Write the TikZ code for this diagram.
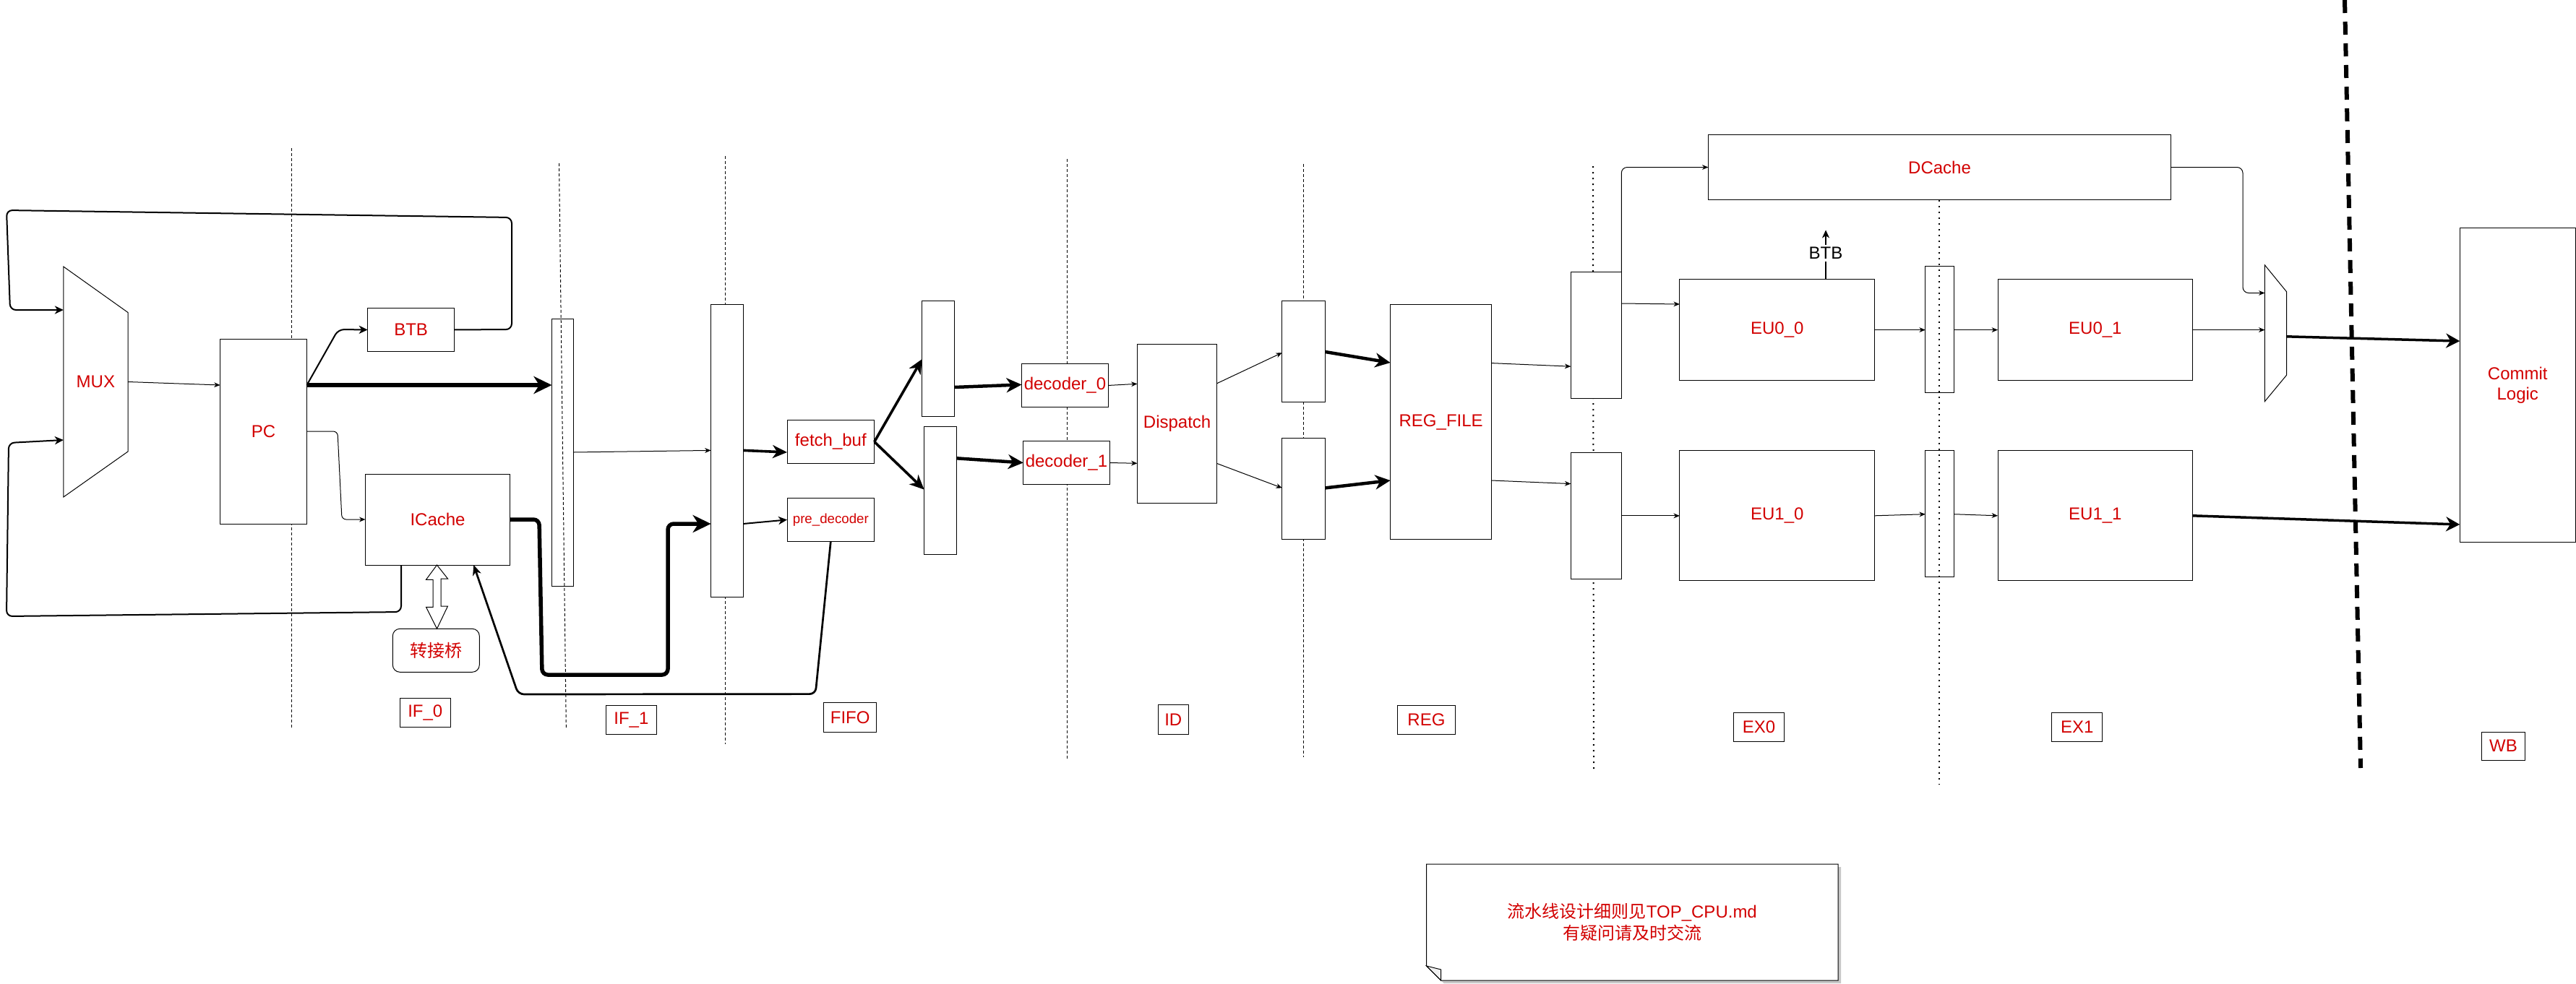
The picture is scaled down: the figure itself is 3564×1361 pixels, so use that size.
\documentclass[tikz,border=0pt]{standalone}
\usepackage{fontspec}
\setmainfont{Liberation Sans}
\newfontfamily\cjk{Noto Sans CJK SC}
\usetikzlibrary{arrows.meta,calc}
\definecolor{lblred}{RGB}{210,0,0}
\newcommand\myfs{\fontsize{12}{14}\selectfont}
\newcommand\mkbox[7][]{\node[box,#1,minimum width={(#5-#3)*0.5pt},minimum height={(#6-#4)*0.5pt}] (#2) at ({(#3+#5)/2},{(#4+#6)/2}) {#7};}
\begin{document}
\begin{tikzpicture}[x=0.5pt,y=-0.5pt,
  box/.style={draw, line width=0.5pt, fill=white, inner sep=0pt, outer sep=0pt, text=lblred, font=\myfs, align=center},
  thinarr/.style={line width=0.5pt, -{Stealth[length=4.2pt,width=3.4pt,inset=1.3pt]}},
  medarr/.style={line width=1pt, rounded corners=4pt, -{Stealth[length=6pt,width=5.6pt,inset=1.8pt]}},
  medarrb/.style={line width=1.35pt, rounded corners=4pt, -{Stealth[length=7pt,width=6pt,inset=2pt]}},
  arrC/.style={line width=1.8pt, -{Stealth[length=10pt,width=9pt,inset=3pt]}},
  arrD/.style={line width=2.25pt, -{Stealth[length=10.5pt,width=10pt,inset=3.2pt]}},
  arrE/.style={line width=1.75pt, -{Stealth[length=9.5pt,width=10pt,inset=3pt]}},
  thickarr/.style={line width=3pt, rounded corners=4pt, -{Stealth[length=12.5pt,width=12pt,inset=3.8pt]}},
  dashln/.style={line width=0.5pt, dash pattern=on 2pt off 1.5pt},
  dotln/.style={line width=1pt, dash pattern=on 1pt off 3pt},
  bigdash/.style={line width=3pt, dash pattern=on 9pt off 6pt}
]
\useasboundingbox (0,0) rectangle (3564,1361);
\fill[white] (0,0) rectangle (3564,1361);

% stage separators drawn behind boxes
\draw[dashln] (403.7,205) -- (403.7,1007);
\draw[dashln] (1003.6,215.7) -- (1003.6,1030);
\draw[dashln] (1476.5,220) -- (1476.5,1051.7);
\draw[dashln] (1803,226.7) -- (1803,1048.3);
\draw[dotln] (2204,230) -- (2205,1066.7);

% boxes
\mkbox[draw=none,fill=none]{mux}{87.8}{369}{177}{688}{MUX}
\draw[line width=0.5pt] (mux.north west) -- ($(mux.north east)+(0,63.5)$) -- ($(mux.south east)+(0,-63)$) -- (mux.south west) -- cycle;
\mkbox{pc}{304.6}{469}{424.5}{725}{PC}
\mkbox{btb}{508.7}{426.6}{628.6}{486.3}{BTB}
\mkbox{icache}{505.5}{656}{705.6}{782}{ICache}
\mkbox[rounded corners=5pt]{bridge}{543.3}{870.3}{663.3}{930.3}{\cjk 转接桥}
\mkbox{lif0}{553.3}{966.7}{623.3}{1006.7}{IF\_0}
\mkbox{if1}{763.5}{441.5}{793.5}{811.5}{}
\mkbox{fifo}{983.6}{421.2}{1028.3}{826.7}{}
\mkbox{fetchbuf}{1089}{581.7}{1209.7}{641.3}{fetch\_buf}
\mkbox[font=\fontsize{9.35}{11}\selectfont]{predec}{1089}{689.6}{1209.7}{749.2}{pre\_decoder}
\mkbox{lif1}{838.3}{976.3}{908.4}{1016.4}{IF\_1}
\mkbox{lfifo}{1139.7}{972.5}{1212.6}{1013.2}{FIFO}
\mkbox{rega}{1275.7}{416.4}{1320.5}{576.3}{}
\mkbox{regb}{1278.6}{590.4}{1323.4}{767}{}
\mkbox{dec0}{1413.5}{503.6}{1533.4}{563.3}{decoder\_0}
\mkbox{dec1}{1415.8}{610.4}{1535.1}{670.6}{decoder\_1}
\mkbox{disp}{1573.5}{476.7}{1683.7}{696.6}{Dispatch}
\mkbox{lid}{1602.2}{975}{1644.3}{1016.5}{ID}
\mkbox{regc}{1773.8}{416.5}{1833.5}{556.5}{}
\mkbox{regd}{1773.8}{606.5}{1833.5}{746.6}{}
\mkbox{regfile}{1923.6}{421.6}{2063.7}{746.6}{REG\_FILE}
\mkbox{lreg}{1933.3}{976.3}{2013.6}{1016.5}{REG}
\mkbox{rege}{2173.3}{376.3}{2243.3}{551.4}{}
\mkbox{regf}{2173.3}{626.6}{2243.3}{801.7}{}
\mkbox{dcache}{2363.4}{186.4}{3003.7}{276.6}{DCache}
\mkbox{eu00}{2323.9}{386.9}{2593.7}{526.3}{EU0\_0}
\mkbox{eu10}{2323.9}{623.8}{2593.7}{803.8}{EU1\_0}
\mkbox{regg}{2663.8}{368.7}{2703.4}{543.8}{}
\mkbox{regh}{2663.8}{623.8}{2703.4}{798.9}{}
\mkbox{eu01}{2764}{386.9}{3033.7}{526.3}{EU0\_1}
\mkbox{eu11}{2764}{623.8}{3033.7}{803.8}{EU1\_1}
\mkbox{lex0}{2398.5}{986.7}{2468.6}{1026.7}{EX0}
\mkbox{lex1}{2838.6}{986.7}{2908.7}{1026.7}{EX1}
\mkbox[draw=none,fill=none]{mux2}{3133.4}{366.9}{3163.7}{555.6}{}
\draw[line width=0.5pt] (mux2.north west) -- ($(mux2.north east)+(0,37.1)$) -- ($(mux2.south east)+(0,-36.6)$) -- (mux2.south west) -- cycle;
\mkbox{commit}{3403.2}{315.7}{3563.3}{750.6}{Commit\\Logic}
\mkbox{lwb}{3433.4}{1013}{3493.5}{1052.2}{WB}

% note with folded corner and shadow
\fill[black!22] (1977.7,1200) -- (2547,1200) -- (2547,1361) -- (1997.7,1361) -- (1977.7,1341) -- cycle;
\draw[line width=0.5pt, fill=white] (1973.7,1196) -- (2543,1196) -- (2543,1357) -- (1993.7,1357) -- (1973.7,1337) -- cycle;
\draw[line width=0.5pt, fill=black!6] (1973.7,1337) -- (1993.7,1342) -- (1993.7,1357) -- cycle;
\mkbox[draw=none,fill=none,font=\fontsize{12}{15}\selectfont]{note}{1973.7}{1196}{2543}{1357}{{\cjk 流水线设计细则见}TOP\_CPU.md\\{\cjk 有疑问请及时交流}}

% separators visible over registers
\draw[dashln] (773.5,226) -- (783.3,1007);
\draw[dotln] (2683,277) -- (2683,1086);

% connectors
\draw[thinarr] (mux.east) -- (pc.west |- 0,533);
\draw[medarr] (pc.east |- 0,533) -- (468,456) -- (btb.west);
\draw[thickarr] (pc.east |- 0,533) -- (if1.west |- 0,533);
\draw[thinarr, rounded corners=3pt] (pc.east |- 0,597) -- (467,597) -- (473,719) -- (icache.west);
\draw[medarr] (btb.east) -- (708,456) -- (708,301) -- (9,291) -- (14,429) -- (mux.west |- 0,429);
\draw[medarr] (icache.south -| 555,0) -- (555,847) -- (9,853) -- (12,613) -- (mux.west |- 0,609);
\draw[thickarr, line width=2.75pt] (icache.east) -- (746,719) -- (750,934) -- (924,934) -- (924,725) -- (fifo.west |- 0,725);
\draw[thinarr] (if1.east |- 0,626) -- (fifo.west |- 0,623.4);
\draw[arrC] (fifo.east |- 0,623.4) -- (fetchbuf.west |- 0,626);
\draw[medarr] (fifo.east |- 0,725) -- (predec.west);
\draw[medarrb] (predec.south) -- (1128.2,960.6) -- (717,961) -- (icache.south -| 655.3,0);
\draw[line width=0.5pt, fill=white] (icache.south -| 604.5,0) -- ++(15,19) -- ++(-9.5,0) -- ++(0,38) -- ++(9.5,0) -- (bridge.north -| 604.5,0) -- ++(-15,-30) -- ++(9.5,0) -- ++(0,-38) -- ++(-9.5,0) -- cycle;
\draw[arrC] (fetchbuf.east) -- (rega.west |- 0,497);
\draw[arrC] (fetchbuf.east) -- (regb.west |- 0,677.6);
\draw[arrD] (rega.east |- 0,536) -- (dec0.west |- 0,532.4);
\draw[arrD] (regb.east |- 0,634.3) -- (dec1.west);
\draw[thinarr] (dec0.east) -- (disp.west |- 0,531.3);
\draw[thinarr] (dec1.east) -- (disp.west |- 0,641.3);
\draw[thinarr] (disp.east |- 0,530.7) -- (regc.west |- 0,488.2);
\draw[thinarr] (disp.east |- 0,641.5) -- (regd.west |- 0,675.4);
\draw[arrD] (regc.east |- 0,487) -- (regfile.west |- 0,502);
\draw[arrD] (regd.east |- 0,675.4) -- (regfile.west |- 0,665);
\draw[thinarr] (regfile.east |- 0,502.6) -- (rege.west |- 0,507.2);
\draw[thinarr] (regfile.east |- 0,665) -- (regf.west |- 0,669.6);
\draw[thinarr, rounded corners=4pt] (rege.north east) -- (rege.east |- dcache.west) -- (dcache.west);
\draw[thinarr] (rege.east |- 0,420) -- (eu00.west |- 0,421);
\draw[thinarr] (regf.east |- 0,713.9) -- (eu10.west |- 0,713.9);
\draw[thinarr] (eu00.east) -- (regg.west |- eu00.east);
\draw[thinarr] (regg.east |- eu00.east) -- (eu01.west);
\draw[thinarr] (eu10.east) -- (regh.west |- 0,711.7);
\draw[thinarr] (regh.east |- 0,711.7) -- (eu11.west);
\coordinate (btbout) at (2526,318.4);
\draw[line width=1pt, -{Stealth[length=5.5pt,width=5pt,inset=1.6pt]}] (eu00.north -| btbout) -- node[pos=0.53, fill=white, inner sep=1.5pt, font=\myfs, text=black] {BTB} (btbout);
\draw[thinarr, rounded corners=4pt] (dcache.east) -- (3103,231.5) -- (3103,405.5) -- (mux2.west |- 0,405.5);
\draw[thinarr] (eu01.east) -- (mux2.west |- eu01.east);
\draw[arrE] (mux2.east |- 0,465.8) -- (commit.west |- 0,472.1);
\draw[arrE] (eu11.east) -- (commit.west |- 0,726);

% commit boundary
\draw[bigdash] (3244,0) -- (3266,1063);
\end{tikzpicture}
\end{document}
